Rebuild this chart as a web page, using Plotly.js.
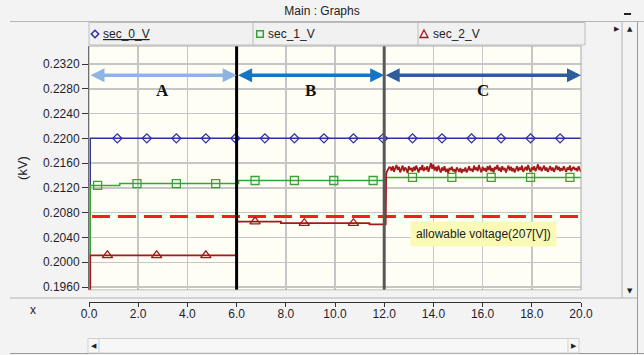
<!DOCTYPE html>
<html><head><meta charset="utf-8">
<script src="https://cdn.plot.ly/plotly-3.0.1.min.js"></script>
<style>html,body{margin:0;padding:0;background:#f3f3f3;}#chart{width:644px;height:355px;}</style>
</head><body><div id="chart"></div>
<script>
// ================= DATA =================
const seriesNames = ['sec_0_V', 'sec_1_V', 'sec_2_V'];
const phaseNames = ['A', 'B', 'C'];
const phaseBounds = [0, 6, 12, 20];
const allowableVoltage = 0.2074;
const allowableStartX = 0.12;
const allowableEndX = 20;
const allowableLabel = 'allowable voltage(207[V])';
const allowableLabelX = 16.03;
const allowableLabelY = 0.20456;

// sec_0_V (kV)
const sec0_x = [0.05, 0.05, 20];
const sec0_y = [0.1900, 0.2200, 0.2200];
const sec0_markX = [1.15, 2.35, 3.55, 4.75, 5.95, 7.15, 8.35, 9.55, 10.75, 11.95, 13.15, 14.35, 15.55, 16.75, 17.95, 19.15];

// sec_1_V (kV)
const sec1_x = [0.05, 0.05, 1.25, 1.25, 6.08, 6.08, 12.08, 12.08, 20];
const sec1_y = [0.1900, 0.2124, 0.2124, 0.2127, 0.2127, 0.2132, 0.2132, 0.2137, 0.2137];
const sec1_markX = [0.35, 1.95, 3.55, 5.15, 6.75, 8.35, 9.95, 11.55, 13.15, 14.75, 16.35, 17.95, 19.55];

// sec_2_V (kV): steps, then sampled noisy segment in phase C
const sec2_x = [0.05, 0.05, 6.0, 6.0, 7.8, 7.8, 11.4, 11.4, 12.06, 12.08, 12.12, 12.16, 12.2];
const sec2_y = [0.1900, 0.2011, 0.2011, 0.20655, 0.20655, 0.2063, 0.2063, 0.2061, 0.2061, 0.2143, 0.2147, 0.2151, 0.2153];
const sec2_noiseStart = 12.25;
const sec2_noiseStep = 0.05;
const sec2_noise = [
  0.2153, 0.2148, 0.2155, 0.2146, 0.2152, 0.2157, 0.2149, 0.2154, 0.2145, 0.2151,
  0.2156, 0.2147, 0.2153, 0.2150, 0.2144, 0.2155, 0.2149, 0.2152, 0.2146, 0.2154,
  0.2148, 0.2156, 0.2151, 0.2145, 0.2153, 0.2149, 0.2157, 0.2147, 0.2152, 0.2150,
  0.2155, 0.2146, 0.2153, 0.2160, 0.2151, 0.2158, 0.2148, 0.2154, 0.2147, 0.2156,
  0.2150, 0.2145, 0.2153, 0.2148, 0.2155, 0.2146, 0.2151, 0.2144, 0.2152, 0.2149,
  0.2154, 0.2147, 0.2150, 0.2145, 0.2153, 0.2148, 0.2146, 0.2152, 0.2144, 0.2150,
  0.2147, 0.2153, 0.2145, 0.2149, 0.2155, 0.2148, 0.2151, 0.2146, 0.2156, 0.2149,
  0.2153, 0.2147, 0.2157, 0.2150, 0.2145, 0.2154, 0.2148, 0.2152, 0.2146, 0.2155,
  0.2149, 0.2156, 0.2147, 0.2152, 0.2145, 0.2154, 0.2150, 0.2157, 0.2148, 0.2153,
  0.2146, 0.2155, 0.2149, 0.2152, 0.2145, 0.2151, 0.2156, 0.2148, 0.2154, 0.2147,
  0.2152, 0.2145, 0.2150, 0.2155, 0.2147, 0.2153, 0.2149, 0.2156, 0.2146, 0.2151,
  0.2154, 0.2148, 0.2157, 0.2150, 0.2146, 0.2153, 0.2149, 0.2155, 0.2147, 0.2152,
  0.2158, 0.2149, 0.2154, 0.2147, 0.2152, 0.2156, 0.2148, 0.2153, 0.2146, 0.2151,
  0.2155, 0.2148, 0.2153, 0.2146, 0.2150, 0.2156, 0.2149, 0.2154, 0.2147, 0.2152,
  0.2148, 0.2155, 0.2150, 0.2146, 0.2153, 0.2149, 0.2156, 0.2147, 0.2151, 0.2154,
  0.2149, 0.2152, 0.2147, 0.2155, 0.2150, 0.2146
];
const sec2_markX = [0.75, 2.75, 4.75, 6.75, 8.75, 10.75];

const arrowY = 0.2302;
const phaseLabelY = 0.2277;

// ================= BUILD =================
const colors = ['#30309e', '#36a336', '#a3191c'];
const symbols = ['diamond-open', 'square-open', 'triangle-up-open'];
const markerSizes = [7, 8, 9];
const lineWidths = [1.5, 1.5, 1.8];

function levelAt(xs, ys, x) {
  let v = ys[0];
  for (let i = 0; i < xs.length; i++) if (xs[i] <= x) v = ys[i];
  return v;
}

const sec2_fullX = sec2_x.concat(sec2_noise.map((_, i) => +(sec2_noiseStart + i * sec2_noiseStep).toFixed(3)));
const sec2_fullY = sec2_y.concat(sec2_noise);

const lines = [[sec0_x, sec0_y], [sec1_x, sec1_y], [sec2_fullX, sec2_fullY]];
const marks = [sec0_markX, sec1_markX, sec2_markX];

const traces = [];
lines.forEach((ln, i) => {
  if (i === 2) {
    traces.push({
      x: [allowableStartX, allowableEndX], y: [allowableVoltage, allowableVoltage],
      mode: 'lines', name: 'allowable voltage', hoverinfo: 'skip',
      line: {color: '#f51d1d', width: 3, dash: '18px,8px'}
    });
  }
  traces.push({x: ln[0], y: ln[1], mode: 'lines', name: seriesNames[i],
    line: {color: colors[i], width: lineWidths[i], shape: 'linear'}});
  traces.push({x: marks[i], y: marks[i].map(v => levelAt(ln[0], ln[1], v)), mode: 'markers',
    name: seriesNames[i] + ' markers',
    marker: {symbol: symbols[i], size: markerSizes[i], color: colors[i], line: {width: 1.3, color: colors[i]}}});
});

// pixel helpers for chrome
const W = 644, H = 355, L = 89, RX = 581, T = 46, AXY = 302, PB = 290;
const px = p => (p - L) / (RX - L);
const py = p => (AXY - p) / (AXY - T);

const shapes = [];
// phase boundaries
const phaseLineColors = ['#000000', '#585858'];
phaseBounds.slice(1, -1).forEach((b, i) => {
  shapes.push({type: 'line', xref: 'x', yref: 'y domain', x0: b, x1: b, y0: 0, y1: 1,
    line: {color: phaseLineColors[i], width: 3}, layer: 'above'});
});
// plot frame
shapes.push({type: 'rect', xref: 'x domain', yref: 'y domain', x0: 0, x1: 1, y0: 0, y1: 1,
  line: {color: '#a8a8a8', width: 1}, layer: 'above'});
// hide gridlines in the gap between plot and axis line
shapes.push({type: 'rect', xref: 'paper', yref: 'paper', x0: px(89.5), x1: px(583), y0: py(301.4), y1: py(290.6),
  fillcolor: '#f3f3f3', line: {width: 0}, layer: 'above'});
const gl = '#b4b4b4';
// title bar line
shapes.push({type: 'line', xref: 'paper', yref: 'paper', x0: px(10), x1: px(644), y0: py(21.5), y1: py(21.5), line: {color: gl, width: 1}});
// legend header row
shapes.push({type: 'rect', xref: 'paper', yref: 'paper', x0: px(89), x1: px(585), y0: py(45), y1: py(22.5),
  fillcolor: '#f1f1f1', line: {color: '#bdbdbd', width: 1}});
[253, 418].forEach(xp => shapes.push({type: 'line', xref: 'paper', yref: 'paper', x0: px(xp), x1: px(xp), y0: py(45), y1: py(22.5), line: {color: '#bdbdbd', width: 1}}));
// legend header symbols
const P = (x, y) => px(x).toFixed(5) + ',' + py(y).toFixed(5);
shapes.push({type: 'path', xref: 'paper', yref: 'paper', path: 'M' + P(95, 30.3) + 'L' + P(98.7, 34) + 'L' + P(95, 37.7) + 'L' + P(91.3, 34) + 'Z',
  line: {color: colors[0], width: 1.5}});
shapes.push({type: 'rect', xref: 'paper', yref: 'paper', x0: px(256.7), x1: px(263.3), y0: py(37.3), y1: py(30.7),
  line: {color: colors[1], width: 1.5}});
shapes.push({type: 'path', xref: 'paper', yref: 'paper', path: 'M' + P(424, 30) + 'L' + P(428, 37.5) + 'L' + P(420, 37.5) + 'Z',
  line: {color: colors[2], width: 1.3}});
// separator above axis area and bottom
shapes.push({type: 'line', xref: 'paper', yref: 'paper', x0: px(10), x1: px(637), y0: py(298), y1: py(298), line: {color: gl, width: 1}});
shapes.push({type: 'line', xref: 'paper', yref: 'paper', x0: px(10), x1: px(644), y0: py(353.5), y1: py(353.5), line: {color: '#9a9a9a', width: 1}});
// right scrollbar
shapes.push({type: 'line', xref: 'paper', yref: 'paper', x0: px(622), x1: px(622), y0: py(22), y1: py(298), line: {color: gl, width: 1}});
shapes.push({type: 'line', xref: 'paper', yref: 'paper', x0: px(637.5), x1: px(637.5), y0: py(22), y1: py(353), line: {color: '#9a9a9a', width: 1}});
// bottom scrollbar
shapes.push({type: 'rect', xref: 'paper', yref: 'paper', x0: px(88), x1: px(579), y0: py(353), y1: py(338.5),
  fillcolor: '#f7f7f7', line: {color: '#cfcfcf', width: 1}});
shapes.push({type: 'line', xref: 'paper', yref: 'paper', x0: px(99), x1: px(99), y0: py(353), y1: py(338.5), line: {color: '#cfcfcf', width: 1}});
shapes.push({type: 'line', xref: 'paper', yref: 'paper', x0: px(568), x1: px(568), y0: py(353), y1: py(338.5), line: {color: '#cfcfcf', width: 1}});
// minimize mark
shapes.push({type: 'line', xref: 'paper', yref: 'paper', x0: px(624), x1: px(631), y0: py(14), y1: py(14), line: {color: '#222', width: 2}});

const annotations = [];
const arrowColors = ['#8fb4e3', '#1674c4', '#2f5d9c'];
phaseNames.forEach((nm, i) => {
  annotations.push({xref: 'x', yref: 'y', axref: 'x', ayref: 'y',
    x: phaseBounds[i + 1], y: arrowY, ax: phaseBounds[i], ay: arrowY,
    text: '', showarrow: true, arrowside: 'end+start', arrowhead: 2, startarrowhead: 2,
    arrowsize: 0.8, startarrowsize: 0.8, arrowwidth: 3.5, arrowcolor: arrowColors[i],
    standoff: 0, startstandoff: 0});
  annotations.push({xref: 'x', yref: 'y', x: (phaseBounds[i] + phaseBounds[i + 1]) / 2, y: phaseLabelY,
    text: '<b>' + nm + '</b>', showarrow: false,
    font: {family: 'Liberation Serif, Times New Roman, serif', size: 17, color: '#111'}});
});
annotations.push({xref: 'x', yref: 'y', x: allowableLabelX, y: allowableLabelY, text: allowableLabel,
  showarrow: false, bgcolor: '#fafab6', borderpad: 5,
  font: {family: 'Liberation Sans, Arial, sans-serif', size: 12, color: '#222'}});
// legend header text
const headerX = [101, 266, 431];
seriesNames.forEach((nm, i) => {
  const label = i === 0 ? '<u>' + nm + '</u>' : nm;
  annotations.push({xref: 'paper', yref: 'paper', x: px(headerX[i]), y: py(34), xanchor: 'left', yanchor: 'middle',
    showarrow: false, text: label,
    font: {family: 'Liberation Sans, Arial, sans-serif', size: 12, color: '#222'}});
});
// x label
annotations.push({xref: 'paper', yref: 'paper', x: px(33), y: py(310), xanchor: 'center', yanchor: 'middle',
  showarrow: false, text: 'x', font: {size: 12, color: '#222'}});
// scroll arrows
[['▶', 617, 29], ['▲', 630, 29], ['▼', 630, 291], ['◀', 93.5, 346], ['▶', 573.5, 346]].forEach(a => {
  annotations.push({xref: 'paper', yref: 'paper', x: px(a[1]), y: py(a[2]), xanchor: 'center', yanchor: 'middle',
    showarrow: false, text: a[0], font: {family: 'DejaVu Sans', size: 7, color: '#222'}});
});

const layout = {
  width: W, height: H,
  margin: {l: L, r: W - RX, t: T, b: H - AXY, pad: 0},
  paper_bgcolor: '#f3f3f3', plot_bgcolor: '#fffef4',
  font: {family: 'Liberation Sans, Arial, sans-serif', size: 12, color: '#222'},
  title: {text: 'Main : Graphs', x: 0.5, xref: 'container', xanchor: 'center',
    y: 1 - 11 / H, yref: 'container', yanchor: 'middle', font: {size: 12, color: '#222'}},
  showlegend: false,
  xaxis: {range: [phaseBounds[0], phaseBounds[3]], domain: [0, 1], anchor: 'free', position: 0,
    tick0: 0, dtick: 2, tickformat: '.1f', showgrid: true, gridcolor: '#c6c6c6', gridwidth: 1.5,
    showline: true, linecolor: '#333', linewidth: 1, ticks: 'outside', ticklen: 4, tickcolor: '#333',
    ticklabelstandoff: -3,
    zeroline: false, tickfont: {size: 12, color: '#1e1e2e'}},
  yaxis: {range: [0.19552, 0.23491], domain: [py(PB), 1], tick0: 0.196, dtick: 0.004, tickformat: '.4f',
    showgrid: true, gridcolor: '#c6c6c6', gridwidth: 1.5, showline: true, linecolor: '#333', linewidth: 1,
    ticks: 'outside', ticklen: 6, tickcolor: '#333', zeroline: false, tickfont: {size: 12, color: '#1e1e2e'},
    title: {text: '(kV)', standoff: 12, font: {size: 13, color: '#222'}}},
  shapes: shapes, annotations: annotations
};

Plotly.newPlot('chart', traces, layout, {displayModeBar: false, staticPlot: true});
</script></body></html>
